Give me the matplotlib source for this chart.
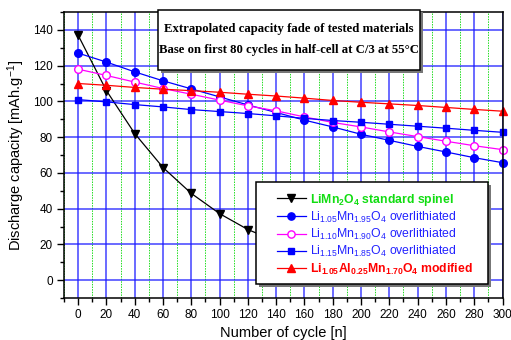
import matplotlib
matplotlib.use("Agg")
import matplotlib.pyplot as plt
from matplotlib.patches import Rectangle
from matplotlib.ticker import MultipleLocator

plt.rcParams['font.family'] = ['Liberation Sans', 'DejaVu Sans']
plt.rcParams['mathtext.fontset'] = 'custom'
plt.rcParams['mathtext.rm'] = 'Liberation Sans'
plt.rcParams['mathtext.it'] = 'Liberation Sans:italic'
plt.rcParams['mathtext.bf'] = 'Liberation Sans:bold'

cycles = [0, 20, 40, 60, 80, 100, 120, 140, 160, 180, 200, 220, 240, 260, 280, 300]
cycles_std = [0, 20, 40, 60, 80, 100, 120, 140, 160, 180, 200, 220, 240]

lmo_standard = [137, 106, 82, 63, 48.5, 37.2, 28.3, 21.7, 16.6, 12.7, 9.7, 7.4, 5.7]
li105_mn195 = [127, 122, 116.5, 111.5, 107, 102.5, 98, 93.8, 89.5, 85.7, 81.6, 78.2, 74.8, 71.7, 68.5, 65.7]
li110_mn190 = [118, 114.5, 110.8, 107.2, 104, 100.7, 97.5, 94.7, 91.3, 88.2, 85.7, 82.9, 80.3, 77.7, 75.2, 73]
li115_mn185 = [101, 99.7, 98.2, 96.9, 95.4, 94.3, 93.2, 91.9, 90.5, 89.3, 88.3, 87.2, 86.1, 85, 83.8, 82.7]
li105_al025 = [110, 109, 107.8, 106.8, 106, 105.1, 104, 103, 101.8, 100.5, 99.5, 98.6, 97.7, 96.6, 95.5, 94.5]

labels = [
    r"LiMn$_\mathbf{2}$O$_\mathbf{4}$ standard spinel",
    r"Li$_{1.05}$Mn$_{1.95}$O$_4$ overlithiated",
    r"Li$_{1.10}$Mn$_{1.90}$O$_4$ overlithiated",
    r"Li$_{1.15}$Mn$_{1.85}$O$_4$ overlithiated",
    r"Li$_\mathbf{1.05}$Al$_\mathbf{0.25}$Mn$_\mathbf{1.70}$O$_\mathbf{4}$ modified",
]
label_colors = ['#11dd11', '#2222ff', '#2222ff', '#2222ff', '#ff0000']
label_weights = ['bold', 'normal', 'normal', 'normal', 'bold']

title_lines = ["Extrapolated capacity fade of tested materials",
               "Base on first 80 cycles in half-cell at C/3 at 55°C"]

W, H = 511, 340
fig = plt.figure(figsize=(W / 100, H / 100), dpi=100)
ax = fig.add_axes([64 / W, 1 - 298 / H, (502.5 - 64) / W, (298 - 12) / H])

ax.set_xlim(-10, 300)
ax.set_ylim(-10, 150)
ax.xaxis.set_major_locator(MultipleLocator(20))
ax.xaxis.set_minor_locator(MultipleLocator(10))
ax.yaxis.set_major_locator(MultipleLocator(20))
ax.yaxis.set_minor_locator(MultipleLocator(10))
ax.set_yticks(range(0, 141, 20))

ax.grid(which='major', axis='both', color='#1a1aff', lw=1.4, alpha=0.65, zorder=0)
ax.grid(which='minor', axis='x', color='#22dd22', lw=0.7, ls=(0, (1.5, 1.2)), zorder=0)
ax.set_axisbelow(True)

ax.tick_params(which='major', direction='out', length=5, width=1, labelsize=8.5, pad=3)
ax.tick_params(which='minor', direction='out', length=3, width=1)
ax.tick_params(top=False, right=False)
for s in ax.spines.values():
    s.set_linewidth(1.1)

mk = 5.5
handles = []
handles += ax.plot(cycles_std, lmo_standard, color='black', lw=0.9, marker='v', ms=mk,
                   markerfacecolor='black', label=labels[0])
handles += ax.plot(cycles, li105_mn195, color='blue', lw=0.9, marker='o', ms=mk,
                   markerfacecolor='blue', label=labels[1])
handles += ax.plot(cycles, li110_mn190, color='#ff00ff', lw=0.9, marker='o', ms=mk,
                   markerfacecolor='white', markeredgecolor='#ff00ff', markeredgewidth=1.0,
                   label=labels[2])
handles += ax.plot(cycles, li115_mn185, color='blue', lw=0.9, marker='s', ms=mk - 0.5,
                   markerfacecolor='blue', label=labels[3])
handles += ax.plot(cycles, li105_al025, color='red', lw=0.9, marker='^', ms=mk,
                   markerfacecolor='red', label=labels[4])
for h in handles:
    h.set_clip_on(False)

ax.set_xlabel("Number of cycle [n]", fontsize=10.5, labelpad=3.5)
ax.set_ylabel(r"Discharge capacity [mAh.g$^{-1}$]", fontsize=10.5, labelpad=4)


def framed_box(x0, y0, x1, y1, z):
    """White box with black edge and grey drop shadow, in figure pixels from top-left."""
    sh = Rectangle(((x0 + 2.5) / W, 1 - (y1 + 2.5) / H), (x1 - x0) / W, (y1 - y0) / H,
                   transform=fig.transFigure, facecolor='#777777', edgecolor='none', zorder=z)
    bx = Rectangle((x0 / W, 1 - y1 / H), (x1 - x0) / W, (y1 - y0) / H,
                   transform=fig.transFigure, facecolor='white', edgecolor='black', lw=1.1,
                   zorder=z + 0.1)
    fig.add_artist(sh)
    fig.add_artist(bx)


# Legend frame drawn as a separate box; legend itself is frameless on top of it
framed_box(256, 182, 488, 284, 20)
leg = fig.legend(handles=handles, loc='upper left',
                 bbox_to_anchor=(277 / W, 1 - 191.5 / H),
                 fontsize=8.8, frameon=False,
                 borderpad=0, handlelength=2.35, handletextpad=0.35, labelspacing=0.18,
                 borderaxespad=0, markerscale=0.95)
leg.set_zorder(21)
for t, c, w in zip(leg.get_texts(), label_colors, label_weights):
    t.set_color(c)
    t.set_fontweight(w)

# Title box
x0, x1, y0, y1 = 158, 420, 10, 70
framed_box(x0, y0, x1, y1, 30)
for ypix, line in zip([29, 50], title_lines):
    fig.text((x0 + x1) / 2 / W, 1 - ypix / H, line, ha='center', va='center',
             family='Liberation Serif', fontweight='bold', fontsize=9.15, zorder=31)

fig.savefig("out.png", dpi=100)
